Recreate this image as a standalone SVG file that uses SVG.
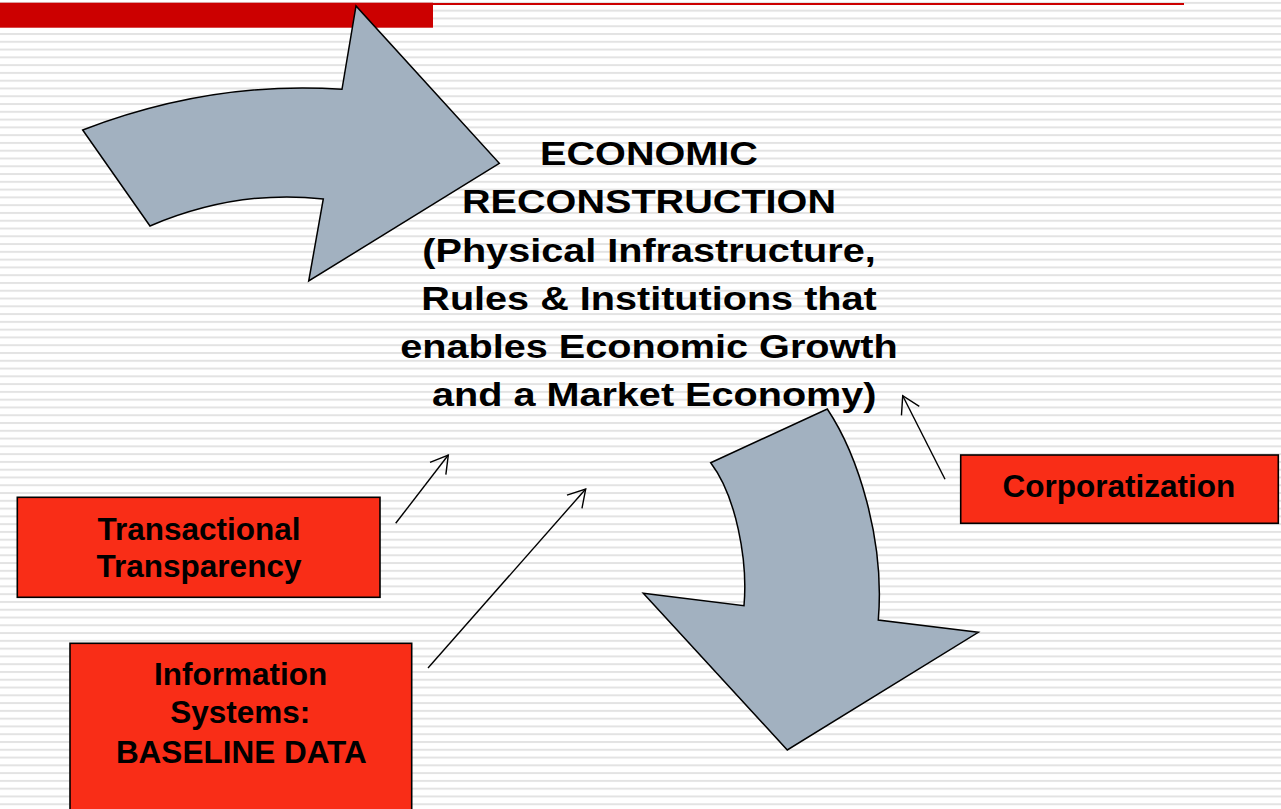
<svg xmlns="http://www.w3.org/2000/svg" width="1281" height="809" viewBox="0 0 1281 809">
  <defs>
    <pattern id="stripes" patternUnits="userSpaceOnUse" x="0" y="1.9" width="20" height="7.78">
      <rect x="0" y="0" width="20" height="2" fill="#e3e3e3"/>
    </pattern>
    <marker id="open" markerUnits="userSpaceOnUse" markerWidth="24" markerHeight="24" viewBox="-20 -12 24 24" refX="0" refY="0" orient="auto">
      <path d="M-17,-10 L0,0 L-17,10" fill="none" stroke="#000" stroke-width="1.4"/>
    </marker>
  </defs>
  <style>
    .arrow { fill: #a2b1c0; stroke: #000; stroke-width: 1.5; stroke-linejoin: miter; }
    .box { fill: #f92d17; stroke: #000; stroke-width: 1.6; }
    .lbl { font-family: "Liberation Sans", Arial, sans-serif; font-weight: bold; font-size: 31.5px; fill: #000; text-anchor: middle; }
    .main { font-family: "Liberation Sans", Arial, sans-serif; font-weight: bold; font-size: 34px; fill: #000; text-anchor: middle; }
    .conn { stroke: #000; stroke-width: 1.4; fill: none; marker-end: url(#open); }
  </style>

  <rect x="0" y="0" width="1281" height="809" fill="#ffffff"/>
  <rect x="0" y="0" width="1281" height="809" fill="url(#stripes)"/>

  <g id="header">
    <rect x="0" y="2.7" width="433" height="25" fill="#cc0000"/>
    <rect x="433" y="3" width="751" height="2" fill="#cc0000"/>
  </g>

  <g id="arrow-top">
    <path class="arrow" d="M82.7,130 L150,226 Q236.7,189.1 323.3,199 L308.7,281 L499.3,163.3 L356,6 L342,89.3 Q211.6,80.4 82.7,130 Z"/>
  </g>

  <g id="arrow-bottom">
    <path class="arrow" d="M710.7,462.7 L827.3,409 C858,455 885,540 878.3,620 L978.3,632.3 L787.3,750 L643.3,593.3 L744,605.7 C748,560 736,496 710.7,462.7 Z"/>
  </g>

  <g id="economic-reconstruction">
    <g transform="translate(649,0) scale(1.165,1)">
      <text class="main" x="0" y="165">ECONOMIC</text>
      <text class="main" x="0" y="213.5">RECONSTRUCTION</text>
      <text class="main" x="0" y="261.7">(Physical Infrastructure,</text>
      <text class="main" x="0" y="310">Rules &amp; Institutions that</text>
      <text class="main" x="0" y="358">enables Economic Growth</text>
      <text class="main" x="4.5" y="406">and a Market Economy)</text>
    </g>
  </g>

  <g id="transactional-transparency">
    <rect class="box" x="17.3" y="497.3" width="362.7" height="100"/>
    <text class="lbl" x="199" y="540">Transactional</text>
    <text class="lbl" x="199" y="577.3">Transparency</text>
  </g>

  <g id="information-systems">
    <rect class="box" x="70" y="643.3" width="341.7" height="175"/>
    <text class="lbl" x="240.7" y="685">Information</text>
    <text class="lbl" x="240.3" y="723.3">Systems:</text>
    <text class="lbl" x="241.3" y="762.7">BASELINE DATA</text>
  </g>

  <g id="corporatization">
    <rect class="box" x="960.7" y="455" width="317.6" height="68.3"/>
    <text class="lbl" x="1118.8" y="496.7">Corporatization</text>
  </g>

  <g id="connectors">
    <line class="conn" x1="395.7" y1="523.3" x2="448.3" y2="455"/>
    <line class="conn" x1="428" y1="668" x2="585.7" y2="489"/>
    <line class="conn" x1="945" y1="479.3" x2="902.7" y2="395.7"/>
  </g>
</svg>
